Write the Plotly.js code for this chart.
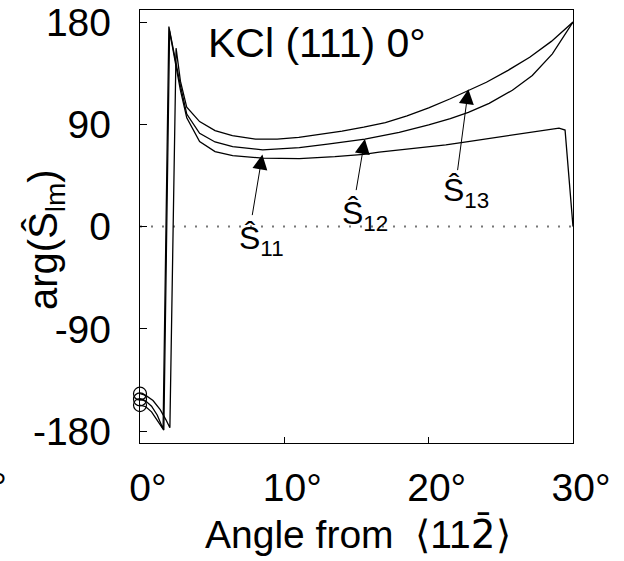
<!DOCTYPE html>
<html>
<head>
<meta charset="utf-8">
<script src="https://cdn.plot.ly/plotly-3.0.1.min.js"></script>
<style>
  html, body { margin: 0; padding: 0; background: #fff; }
  #chart { width: 624px; height: 561px; }
</style>
</head>
<body>
<div id="chart"></div>
<script>
// Phase of the S_lm coefficients versus in-plane angle, KCl (111), 0 degree tilt.
const s13Angle = [0, 0.4, 0.9, 1.4, 1.8, 2.07, 2.5, 2.8, 3.24, 4.13, 5.2, 6.4, 8.0, 9.5, 11.0, 12.5, 14.0, 15.5, 17.0, 18.5, 20.0, 21.5, 22.75, 24.0, 25.5, 27.0, 28.5, 30];
const s13Phase = [-147, -148.5, -153, -161, -170, -177, 157, 128, 105, 92.4, 84.5, 80, 77, 77, 78.5, 81, 84, 87.5, 91.5, 97.5, 104.5, 112.5, 119.5, 127, 137.5, 149, 163, 180];

const s12Angle = [0, 0.4, 0.8, 1.2, 1.6, 2.0, 2.4, 2.8, 3.24, 4.13, 5.2, 6.42, 8.5, 11.04, 13.0, 15.58, 17.96, 20.0, 21.5, 22.75, 24.19, 25.8, 27.18, 28.57, 30];
const s12Phase = [-152, -153.5, -158, -166, -178, 176, 150, 124, 99, 82.1, 74.5, 70.4, 67.5, 69.5, 72.5, 77, 83, 89.5, 95, 100.5, 108.5, 120, 133, 152, 180];

const s11Angle = [0, 0.4, 0.8, 1.2, 1.65, 2.05, 2.4, 2.8, 3.24, 4.13, 5.2, 6.42, 8.5, 11.04, 13.5, 15.5, 16.57, 18.5, 21.19, 22.73, 25.8, 27.5, 29.03, 29.45, 30];
const s11Phase = [-157, -158.5, -163, -170, -179, 172, 148, 120, 95.7, 74.8, 66, 62.5, 60.2, 59.8, 61.5, 63.5, 65.5, 68, 72, 74.8, 80.5, 83.5, 86.6, 85, 0];

const xTickVals = [0, 10, 20, 30];
const xTickText = ['0°', '10°', '20°', '30°'];
const yTickVals = [-180, -90, 0, 90, 180];
const yTickText = ['-180', '-90', '0', '90', '180'];

// arrow tip / tail for each curve label (degrees, phase)
const labelText = ['Ŝ<sub>11</sub>', 'Ŝ<sub>12</sub>', 'Ŝ<sub>13</sub>'];
const arrowTipX = [8.48, 15.58, 22.75];
const arrowTipY = [63.5, 77.2, 120.9];
const arrowTailX = [7.76, 14.96, 21.99];
const arrowTailY = [8.8, 30.8, 48.4];
const labelX = [8.4, 15.6, 22.6];
const labelY = [-12, 10, 30];

const FONT = 'Liberation Sans, Arial, Helvetica, sans-serif';

const lineStyle = { color: '#000', width: 1.3 };
const traces = [
  { x: s11Angle, y: s11Phase, mode: 'lines', line: lineStyle, name: 'S11', hoverinfo: 'skip' },
  { x: s12Angle, y: s12Phase, mode: 'lines', line: lineStyle, name: 'S12', hoverinfo: 'skip' },
  { x: s13Angle, y: s13Phase, mode: 'lines', line: lineStyle, name: 'S13', hoverinfo: 'skip' },
  {
    // starting values marked with open circles on the left axis
    x: [s13Angle[0], s12Angle[0], s11Angle[0]],
    y: [s13Phase[0], s12Phase[0], s11Phase[0]],
    mode: 'markers',
    marker: { symbol: 'circle-open', size: 13, color: '#000', line: { width: 1.2, color: '#000' } },
    cliponaxis: false,
    hoverinfo: 'skip'
  }
];

const annotations = [
  {
    text: 'KCl (111) 0°', xref: 'paper', yref: 'paper',
    x: (316.5 - 140) / 433, y: (443 - 43.5) / 433, xanchor: 'center', yanchor: 'middle',
    showarrow: false, font: { family: FONT, size: 41, color: '#000' }
  },
  {
    text: 'arg(Ŝ<sub>lm</sub>)', xref: 'paper', yref: 'paper', textangle: -90,
    x: (46 - 140) / 433, y: (443 - 240) / 433, xanchor: 'center', yanchor: 'middle',
    showarrow: false, font: { family: FONT, size: 40, color: '#000' }
  },
  {
    text: 'Angle from \u00a0\u27e811<span style="font-family:DejaVu Sans">2\u0304</span>\u27e9', xref: 'paper', yref: 'paper',
    x: (358 - 140) / 433, y: (443 - 534) / 433, xanchor: 'center', yanchor: 'middle',
    showarrow: false, font: { family: FONT, size: 39, color: '#000' }
  },
  {
    text: '-10°', xref: 'paper', yref: 'paper',
    x: (9 - 140) / 433, y: (443 - 487) / 433, xanchor: 'right', yanchor: 'middle',
    showarrow: false, font: { family: FONT, size: 39, color: '#000' }
  }
];

for (let i = 0; i < labelText.length; i++) {
  annotations.push({
    text: '', x: arrowTipX[i], y: arrowTipY[i], xref: 'x', yref: 'y',
    ax: arrowTailX[i], ay: arrowTailY[i], axref: 'x', ayref: 'y',
    showarrow: true, arrowhead: 2, arrowsize: 3, arrowwidth: 1, arrowcolor: '#000', standoff: 0, startstandoff: 0
  });
  annotations.push({
    text: labelText[i], x: labelX[i], y: labelY[i], xref: 'x', yref: 'y',
    xanchor: 'center', yanchor: 'middle', showarrow: false,
    font: { family: FONT, size: 32, color: '#000' }
  });
}

const layout = {
  width: 624, height: 561,
  margin: { l: 140, r: 51, t: 10, b: 118, pad: 0 },
  paper_bgcolor: '#fff', plot_bgcolor: '#fff',
  showlegend: false,
  font: { family: FONT, color: '#000' },
  xaxis: {
    range: [0, 30], tickvals: xTickVals, ticktext: xTickText,
    ticks: 'inside', ticklen: 6, tickwidth: 1, tickcolor: '#000',
    showline: true, linecolor: '#000', linewidth: 1.2, mirror: true,
    showgrid: false, zeroline: false,
    tickfont: { family: FONT, size: 39, color: '#000' },
    ticklabelshift: 8, ticklabelstandoff: 10
  },
  yaxis: {
    range: [-190.4, 190.6], tickvals: yTickVals, ticktext: yTickText,
    ticks: 'inside', ticklen: 7, tickwidth: 1, tickcolor: '#000',
    showline: true, linecolor: '#000', linewidth: 1.2, mirror: true,
    showgrid: false, zeroline: false,
    tickfont: { family: FONT, size: 39, color: '#000' },
    ticklabelstandoff: 20
  },
  shapes: [
    {
      type: 'line', xref: 'paper', yref: 'y', x0: 0, x1: 1, y0: 0, y1: 0,
      line: { color: '#777', width: 2, dash: '2px,9px' }, layer: 'below'
    }
  ],
  annotations: annotations
};

Plotly.newPlot('chart', traces, layout, { displayModeBar: false, staticPlot: true });
</script>
</body>
</html>
